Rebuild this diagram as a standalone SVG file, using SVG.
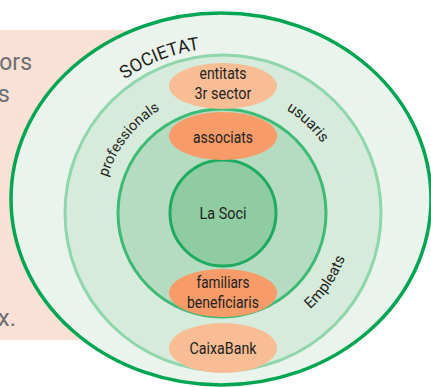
<svg xmlns="http://www.w3.org/2000/svg" width="431" height="387" viewBox="0 0 431 387">
<defs>
<style>
.lbl{font-family:Roboto,"Liberation Sans",sans-serif;font-size:16.5px;fill:#231f20;text-anchor:middle}
.arc{font-family:Roboto,"Liberation Sans",sans-serif;fill:#231f20;text-anchor:middle}
.side{font-family:Roboto,"Liberation Sans",sans-serif;font-size:24px;fill:#6d6e71;text-anchor:end}
.o1{fill:#f9bd95}
.o2{fill:#f79c69}
</style>
<path id="pSoc" d="M 57 213 A 165 165 0 0 1 387 213"/>
<path id="pIn" d="M 102 213 A 121 121 0 0 1 344 213"/>
<path id="pEmp" d="M 223 343 A 130 130 0 0 0 223 83"/>
</defs>
<g id="background">
<rect x="0" y="30" width="220" height="310" fill="#fbe0d6"/>
<text class="side" x="32" y="70" textLength="40" lengthAdjust="spacingAndGlyphs">tors</text>
<text class="side" x="10" y="102">s</text>
<text class="side" x="16" y="326">x.</text>
</g>
<g id="societat">
<ellipse cx="221" cy="199" rx="210" ry="186" fill="#eaf4ec" stroke="#00a651" stroke-width="3.5"/>
</g>
<g id="ring-usuaris">
<circle cx="223" cy="213" r="158" fill="#d6ebdc" stroke="#8fd6ab" stroke-width="3"/>
</g>
<g id="ring-associats">
<circle cx="222" cy="213" r="104" fill="#b5dcc0" stroke="#3dba74" stroke-width="3"/>
</g>
<g id="la-soci">
<circle cx="223" cy="213" r="53" fill="#8fcca2" stroke="#1fab5f" stroke-width="3"/>
<text class="lbl" x="223" y="219" textLength="47" lengthAdjust="spacingAndGlyphs">La Soci</text>
</g>
<g id="entitats">
<ellipse class="o1" cx="223" cy="86" rx="54" ry="23"/>
<text class="lbl" x="223" y="79" textLength="47" lengthAdjust="spacingAndGlyphs">entitats</text>
<text class="lbl" x="223" y="99" textLength="57" lengthAdjust="spacingAndGlyphs">3r sector</text>
</g>
<g id="associats">
<ellipse class="o2" cx="223" cy="136" rx="54" ry="24"/>
<text class="lbl" x="223" y="143" textLength="60" lengthAdjust="spacingAndGlyphs">associats</text>
</g>
<g id="familiars">
<ellipse class="o2" cx="223" cy="293" rx="54" ry="24"/>
<text class="lbl" x="223" y="288" textLength="53" lengthAdjust="spacingAndGlyphs">familiars</text>
<text class="lbl" x="223" y="308" textLength="72" lengthAdjust="spacingAndGlyphs">beneficiaris</text>
</g>
<g id="caixabank">
<ellipse class="o1" cx="223" cy="348" rx="54" ry="25"/>
<text class="lbl" x="223" y="354" textLength="67" lengthAdjust="spacingAndGlyphs">CaixaBank</text>
</g>
<g id="ring-labels">
<text class="arc" font-size="18"><textPath href="#pSoc" startOffset="196">SOCIETAT</textPath></text>
<text class="arc" font-size="14.5"><textPath href="#pIn" startOffset="80">professionals</textPath></text>
<text class="arc" font-size="15"><textPath href="#pIn" startOffset="281">usuaris</textPath></text>
<text class="arc" font-size="15"><textPath href="#pEmp" startOffset="127">Empleats</textPath></text>
</g>
</svg>
